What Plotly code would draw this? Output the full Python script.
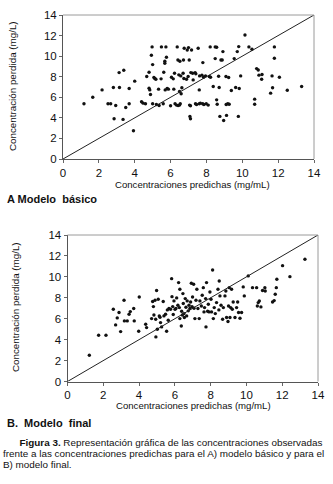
import plotly.graph_objects as go

# ---- Data: Modelo básico (A) ----
a_pred = [1.17, 1.66, 2.18, 2.51, 2.66, 2.81, 2.94, 2.85, 3.13, 3.15, 3.39, 3.35, 3.50, 3.69, 3.69,
          3.93, 4.00, 4.38, 4.47, 4.60, 4.67, 4.80, 4.80, 4.84, 4.88, 4.93, 4.97, 5.00, 5.00, 5.07,
          5.12, 5.18, 5.21, 5.33, 5.36, 5.47, 5.49, 5.59, 5.62, 5.68, 5.68, 5.77, 5.74, 5.70, 5.81,
          5.88, 6.05, 6.15, 6.00, 6.18, 6.22, 6.25, 6.33, 6.42, 6.50, 6.54, 6.37, 6.41, 6.52, 6.46,
          6.57, 6.50, 6.59, 6.63, 6.72, 6.76, 6.70, 6.74, 6.89, 6.98, 6.93, 7.00, 7.04, 7.06, 7.11,
          7.08, 7.11, 7.13, 7.23, 7.17, 7.26, 7.37, 7.41, 7.39, 7.45, 7.54, 7.60, 7.66, 7.79, 7.86,
          7.60, 7.62, 7.75, 7.84, 7.95, 7.80, 7.99, 8.10, 8.16, 8.23, 8.21, 8.38, 8.49, 8.57, 8.49,
          8.57, 8.60, 8.68, 8.71, 8.81, 8.88, 8.75, 8.92, 8.96, 9.09, 9.12, 9.10, 9.19, 9.27, 9.24,
          9.39, 9.55, 9.63, 9.72, 9.78, 9.80, 9.83, 9.91, 10.15, 10.37, 10.54, 10.69, 10.69, 10.80,
          10.89, 10.93, 11.08, 11.10, 11.58, 11.66, 11.69, 11.79, 11.79, 12.07, 12.51, 13.31]
a_obs = [5.37, 6.01, 6.72, 5.37, 5.37, 6.95, 5.20, 3.91, 8.40, 6.95, 8.63, 3.85, 5.01, 5.37, 6.85,
         2.75, 7.57, 5.56, 5.43, 5.37, 8.02, 8.44, 6.89, 6.72, 6.27, 10.09, 10.90, 9.18, 5.37, 7.92,
         7.82, 7.76, 5.30, 6.79, 5.20, 7.79, 10.90, 5.37, 8.44, 9.50, 9.31, 9.89, 10.90, 6.72, 6.85,
         6.79, 7.95, 7.79, 5.17, 6.79, 8.34, 5.37, 5.24, 5.20, 5.24, 5.37, 10.90, 9.63, 9.50, 8.18,
         8.08, 6.56, 6.34, 6.92, 9.63, 10.77, 8.34, 7.82, 7.76, 8.02, 10.60, 10.83, 9.63, 5.24, 5.17,
         4.14, 3.91, 8.40, 8.34, 10.60, 7.69, 8.40, 8.28, 5.37, 5.30, 10.77, 5.37, 5.43, 5.37, 5.30,
         6.72, 8.08, 8.15, 7.95, 8.08, 9.37, 5.37, 5.24, 8.02, 7.95, 10.90, 7.05, 10.90, 10.86, 9.76,
         5.75, 5.33, 8.05, 6.95, 9.63, 9.63, 4.14, 10.44, 3.75, 8.02, 4.24, 5.30, 5.37, 5.33, 7.92,
         6.66, 9.76, 6.95, 10.44, 4.14, 10.93, 6.85, 8.08, 12.06, 10.90, 10.67, 5.82, 5.33, 8.79,
         8.66, 8.15, 7.76, 8.21, 6.40, 8.08, 6.92, 10.90, 9.80, 7.95, 6.69, 7.05]

# ---- Data: Modelo final (B) ----
b_pred = [1.22, 1.74, 2.15, 2.56, 2.69, 2.78, 2.88, 2.97, 3.16, 3.18, 3.34, 3.44, 3.51, 3.70, 3.73,
          3.98, 4.01, 4.37, 4.42, 4.70, 4.76, 4.80, 4.83, 4.89, 4.93, 4.94, 4.98, 5.02, 5.07, 5.13,
          5.17, 5.20, 5.26, 5.35, 5.39, 5.48, 5.54, 5.58, 5.63, 5.67, 5.76, 5.82, 5.84, 5.88, 5.91,
          5.95, 6.01, 6.06, 6.10, 6.17, 6.21, 6.25, 6.28, 6.28, 6.36, 6.38, 6.42, 6.45, 6.47, 6.51,
          6.53, 6.58, 6.62, 6.66, 6.69, 6.75, 6.79, 6.84, 6.88, 6.92, 6.96, 6.99, 7.05, 7.07, 7.12,
          7.18, 7.23, 7.29, 7.36, 7.40, 7.48, 7.53, 7.59, 7.63, 7.66, 7.72, 7.74, 7.77, 7.83, 7.87,
          7.91, 7.96, 8.02, 8.05, 8.11, 8.15, 8.20, 8.26, 8.33, 8.41, 8.46, 8.48, 8.52, 8.58, 8.67,
          8.71, 8.80, 8.85, 8.89, 8.97, 9.00, 9.04, 9.08, 9.12, 9.17, 9.21, 9.26, 9.36, 9.45, 9.51,
          9.56, 9.64, 9.73, 9.82, 9.88, 10.10, 10.34, 10.57, 10.61, 10.66, 10.72, 10.81, 10.90, 11.03,
          11.05, 11.46, 11.55, 11.61, 11.67, 11.70, 12.02, 12.43, 13.27]
b_obs = [2.51, 4.42, 4.42, 6.90, 5.41, 6.08, 6.59, 4.77, 7.76, 5.79, 5.79, 6.43, 6.68, 6.97, 5.79,
         4.80, 8.08, 5.47, 5.15, 6.01, 7.64, 7.16, 6.36, 7.76, 5.95, 4.26, 8.69, 5.00, 7.86, 6.27,
         6.14, 5.63, 5.22, 7.64, 6.27, 6.43, 4.80, 6.84, 5.85, 6.97, 6.90, 9.83, 8.11, 7.16, 6.40,
         7.70, 6.90, 6.97, 7.99, 7.29, 9.45, 7.06, 8.81, 6.01, 5.31, 6.71, 6.36, 8.40, 7.45, 6.49,
         6.11, 7.92, 7.10, 6.27, 7.70, 6.75, 7.29, 6.97, 7.60, 9.39, 7.16, 8.08, 9.29, 7.00, 6.01,
         7.76, 8.81, 6.97, 6.01, 7.70, 7.22, 8.24, 8.97, 6.65, 7.06, 7.92, 5.22, 9.45, 6.71, 7.38,
         6.65, 8.56, 7.86, 6.65, 10.66, 6.01, 7.06, 6.49, 7.54, 8.81, 6.84, 9.61, 8.18, 7.29, 5.95,
         7.06, 8.18, 8.65, 6.11, 5.73, 7.22, 8.97, 6.11, 7.06, 8.81, 6.90, 7.60, 6.11, 7.06, 7.60,
         6.59, 6.05, 6.59, 9.04, 8.18, 10.09, 8.97, 8.97, 7.22, 7.54, 7.70, 7.13, 8.69, 8.97,
         8.65, 7.60, 7.73, 8.34, 8.97, 9.77, 11.07, 10.02, 11.68]

identity = [0, 14]
tick_vals = [0, 2, 4, 6, 8, 10, 12, 14]

x_title = "Concentraciones predichas (mg/mL)"
y_title = "Concentración perdida (mg/L)"
label_a = "A Modelo  básico"
label_b = "B.  Modelo  final"
caption = ["      <b>Figura 3.</b> Representación gráfica de las concentraciones observadas",
           "frente a las concentraciones predichas para el A) modelo básico y para el",
           "B) modelo final."]

W, H = 333, 484
SANS = "Liberation Sans, Arial, sans-serif"

def px(x):
    return x / W

def py(y):
    return 1 - y / H

fig = go.Figure()
mk = dict(color="#111", size=3.4)
fig.add_trace(go.Scatter(x=a_pred, y=a_obs, mode="markers", marker=mk, xaxis="x", yaxis="y"))
fig.add_trace(go.Scatter(x=identity, y=identity, mode="lines", line=dict(color="#222", width=1), xaxis="x", yaxis="y"))
fig.add_trace(go.Scatter(x=b_pred, y=b_obs, mode="markers", marker=mk, xaxis="x2", yaxis="y2"))
fig.add_trace(go.Scatter(x=identity, y=identity, mode="lines", line=dict(color="#222", width=1), xaxis="x2", yaxis="y2"))

ax = dict(range=[0, 14], tickvals=tick_vals, showgrid=False, zeroline=False, showline=True,
          mirror=False, linecolor="#555", linewidth=1, ticks="outside", ticklen=3, tickcolor="#666",
          tickfont=dict(family=SANS, size=11.5, color="#111"), automargin=False, fixedrange=True)

# plot A: x 63..314, y 15..159 ; plot B: x 67.5..318, y 235..381.5
fig.update_layout(
    width=W, height=H, margin=dict(l=0, r=0, t=0, b=0),
    paper_bgcolor="white", plot_bgcolor="white", showlegend=False,
    xaxis=dict(ax, domain=[px(63), px(314)], anchor="y"),
    yaxis=dict(ax, domain=[py(159), py(15)], anchor="x"),
    xaxis2=dict(ax, domain=[px(67.5), px(318)], anchor="y2"),
    yaxis2=dict(ax, domain=[py(381.5), py(235)], anchor="x2"),
)

# light grey top/right frame lines
shapes = []
for xr, yr in (("x", "y"), ("x2", "y2")):
    shapes.append(dict(type="line", xref=xr + " domain", yref=yr + " domain", x0=0, x1=1, y0=1, y1=1,
                       line=dict(color="#9a9a9a", width=1)))
    shapes.append(dict(type="line", xref=xr + " domain", yref=yr + " domain", x0=1, x1=1, y0=0, y1=1,
                       line=dict(color="#9a9a9a", width=1)))
fig.update_layout(shapes=shapes)

ann = []
def text(x, y, s, size, xanchor="center", angle=0):
    ann.append(dict(x=px(x), y=py(y), xref="paper", yref="paper", text=s, showarrow=False,
                    xanchor=xanchor, yanchor="middle", textangle=angle, borderpad=0,
                    font=dict(family=SANS, size=size, color="#111")))

text(192, 184, x_title, 9.6)
text(13, 86, y_title, 9.8, angle=-90)
text(6, 199, "<b>" + label_a + "</b>", 11, xanchor="left")

text(193, 405, x_title, 9.6)
text(15, 307, y_title, 9.8, angle=-90)
text(6, 423, "<b>" + label_b + "</b>", 11, xanchor="left")

for i, line in enumerate(caption):
    text(2, 442 + i * 11, line, 9.9, xanchor="left")

fig.update_layout(annotations=ann)
fig.write_html("out.html", config={"displayModeBar": False, "staticPlot": True},
               post_script="document.body.style.margin='0';document.body.style.overflow='hidden';")
